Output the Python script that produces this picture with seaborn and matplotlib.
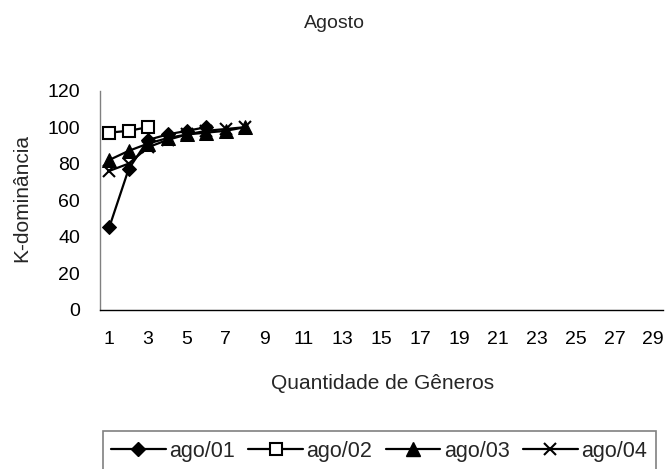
import numpy as np
import pandas as pd
import matplotlib
matplotlib.use("Agg")
import matplotlib.pyplot as plt
from matplotlib.lines import Line2D
from matplotlib.patches import Rectangle
import seaborn as sns

# Cumulative dominance (%) per rank of genus, one series per sampling
categories = list(range(1, 30))
tick_labels = [str(c) for c in categories if c % 2 == 1]
series_names = ["ago/01", "ago/02", "ago/03", "ago/04"]
ago01 = [45, 77, 93, 96, 98, 100]
ago02 = [97, 98, 100]
ago03 = [82, 87, 91, 94, 96, 97, 98, 100]
ago04 = [76, 80, 89, 93, 96, 98, 99, 100]

sns.set_style("white")
plt.rcParams["font.family"] = ["Liberation Sans", "DejaVu Sans"]
TICK_FS = 14
LABEL_FS = 15
LEGEND_FS = 15.5

W, H = 668, 469
fig = plt.figure(figsize=(W / 100, H / 100), dpi=100)
ax = fig.add_axes([99.5 / W, 1 - 309.5 / H, (663 - 99.5) / W, (309.5 - 90.7) / H])

styles = {
    "ago/01": dict(marker="D", markersize=7, markerfacecolor="black", markeredgecolor="black"),
    "ago/02": dict(marker="s", markersize=8.5, markerfacecolor="white", markeredgecolor="black", markeredgewidth=1.5),
    "ago/03": dict(marker="^", markersize=9.5, markerfacecolor="black", markeredgecolor="black"),
    "ago/04": dict(marker="x", markersize=8.5, markeredgecolor="black", markeredgewidth=1.5),
}

for name, vals in zip(series_names, [ago01, ago02, ago03, ago04]):
    df = pd.DataFrame({"genero": categories[:len(vals)], "valor": vals})
    sns.lineplot(data=df, x="genero", y="valor", ax=ax, color="black",
                 linewidth=1.6, errorbar=None, **styles[name])

ax.set_xlim(0.5, len(categories) + 0.5)
ax.set_ylim(0, 120)
ax.set_yticks(np.arange(0, 121, 20))

# category labels on odd numbers, tick marks on category boundaries
ax.set_xticks([int(t) for t in tick_labels])
ax.set_xticklabels(tick_labels)
ax.set_xticks(np.arange(0.5, len(categories) + 1, 1.0), minor=True)
ax.tick_params(axis="x", which="major", length=0, pad=15.5, labelsize=TICK_FS, colors="black")
ax.tick_params(axis="x", which="minor", length=5, width=1, color="black", direction="out")
ax.tick_params(axis="y", length=5, width=1, color="#808080", direction="out", pad=9,
               labelsize=TICK_FS, labelcolor="black")

for side in ("top", "right"):
    ax.spines[side].set_visible(False)
ax.spines["left"].set_color("#808080")
ax.spines["left"].set_linewidth(1)
ax.spines["bottom"].set_color("black")
ax.spines["bottom"].set_linewidth(1)

ax.set_xlabel("")
ax.set_ylabel("")
fig.text(21.5 / W, 1 - 198 / H, "K-dominância", rotation=90, ha="center", va="center", fontsize=LABEL_FS)
fig.text(383 / W, 1 - 383.5 / H, "Quantidade de Gêneros", ha="center", va="center", fontsize=LABEL_FS)
fig.text(334 / W, 1 - 24 / H, "Agosto", ha="center", va="center", fontsize=TICK_FS)

handles = [Line2D([0], [0], color="black", linewidth=1.6, **styles[n]) for n in series_names]
fig.legend(handles, series_names, loc="center left", bbox_to_anchor=(111 / W, 1 - 451 / H),
           ncol=4, frameon=False, fontsize=LEGEND_FS, handlelength=2.55, handletextpad=0.15,
           columnspacing=0.62, borderpad=0, borderaxespad=0)
fig.patches.append(Rectangle((103 / W, -0.05), (656 - 103) / W, 0.05 + (469 - 430.6) / H,
                             transform=fig.transFigure, fill=False, edgecolor="#808080",
                             linewidth=1.2, figure=fig))

fig.savefig("out.png", dpi=100)
